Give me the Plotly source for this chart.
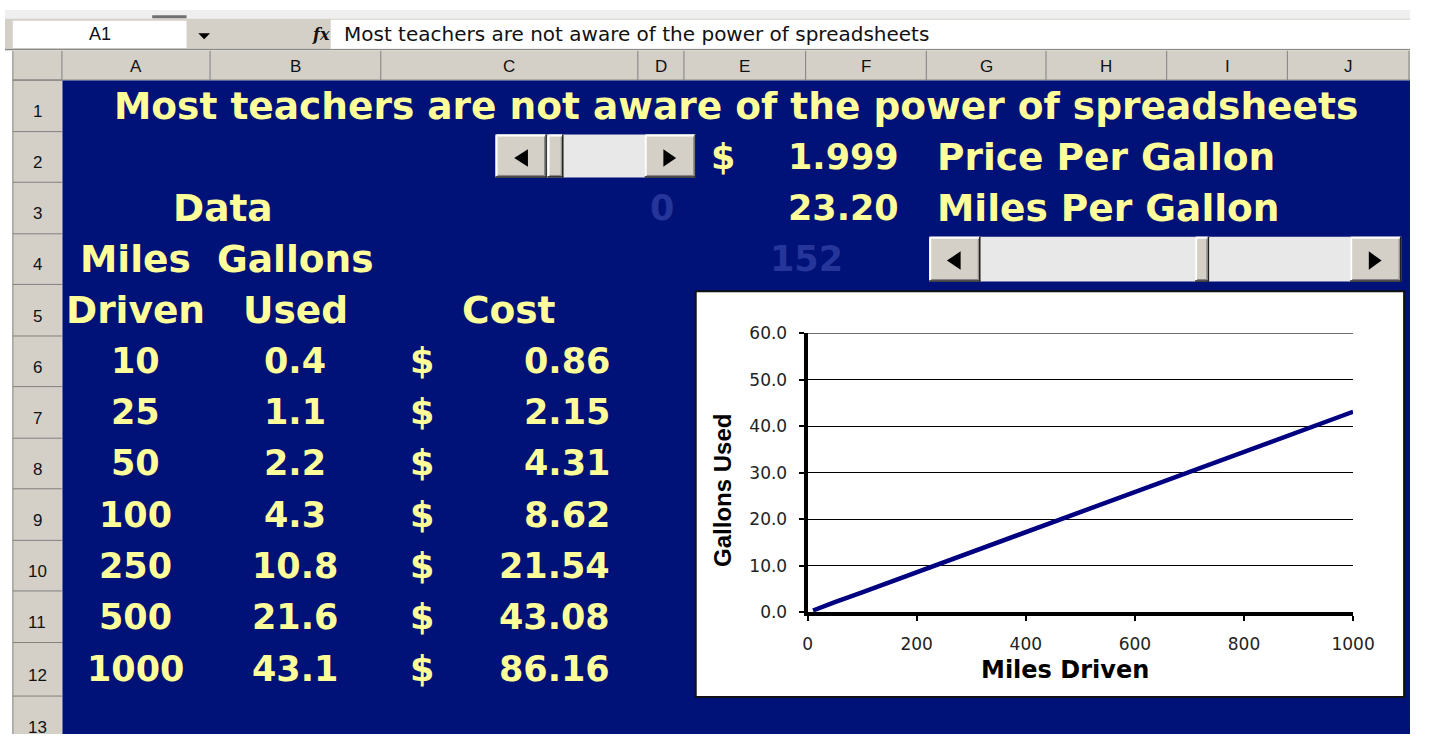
import plotly.graph_objects as go

W, H = 1432, 744

# ---------------- data ----------------
title_text = "Most teachers are not aware of the power of spreadsheets"
cell_ref = "A1"
column_letters = ["A", "B", "C", "D", "E", "F", "G", "H", "I", "J"]
row_numbers = list(range(1, 14))
miles_driven = [10, 25, 50, 100, 250, 500, 1000]
gallons_used = [0.4, 1.1, 2.2, 4.3, 10.8, 21.6, 43.1]
cost_dollars = [0.86, 2.15, 4.31, 8.62, 21.54, 43.08, 86.16]
price_per_gallon = 1.999
miles_per_gallon = 23.20
hidden_price_link = 0
hidden_mpg_link = 152
x_ticks = [0, 200, 400, 600, 800, 1000]
y_ticks = [0, 10, 20, 30, 40, 50, 60]

# ---------------- geometry helpers ----------------
col_edges = [58, 209, 383, 645, 692, 816, 939, 1061, 1184, 1307, 1431]
row_edges = [72, 125, 177, 230, 282, 335, 387, 440, 492, 545, 597, 650, 705, 757]

BLUE = "#001278"
YELLOW = "#FFFF99"
DIM = "#26359a"
GRAY = "#d4d0c8"


def X(p):
    return p / W


def Y(p):
    return 1 - p / H


shapes = []
annotations = []


def rect(x0, y0, x1, y1, fill, line=None, lw=0, layer="below"):
    shapes.append(dict(type="rect", xref="paper", yref="paper",
                       x0=X(x0), x1=X(x1), y0=Y(y1), y1=Y(y0),
                       fillcolor=fill, layer=layer,
                       line=dict(color=line or fill, width=lw)))


def seg(x0, y0, x1, y1, color, w=1, layer="below"):
    shapes.append(dict(type="line", xref="paper", yref="paper",
                       x0=X(x0), x1=X(x1), y0=Y(y0), y1=Y(y1),
                       layer=layer, line=dict(color=color, width=w)))


def poly(pts, fill):
    d = "M " + " L ".join(f"{X(a):.6f},{Y(b):.6f}" for a, b in pts) + " Z"
    shapes.append(dict(type="path", xref="paper", yref="paper", path=d,
                       fillcolor=fill, line=dict(color=fill, width=0), layer="below"))


def text(x, y, s, size, color, family="DejaVu Sans", bold=False, xa="center", ya="middle", angle=0):
    annotations.append(dict(x=X(x), y=Y(y), xref="paper", yref="paper", text=s,
                            showarrow=False, xanchor=xa, yanchor=ya, textangle=angle,
                            font=dict(family=family, size=size, color=color,
                                      weight="bold" if bold else "normal")))


def rowc(r):
    return (row_edges[r - 1] + row_edges[r]) / 2


def colc(c):
    return (col_edges[c] + col_edges[c + 1]) / 2


# ---------------- window chrome ----------------
rect(0, 0, W, 42, GRAY)
rect(0, 0, W, 9, "#efefef")
seg(150, 7, 185, 7, "#707070", 3)
rect(8, 11, 185, 39, "white")
poly([(197, 24), (209, 24), (203, 30)], "black")
text(97, 25, cell_ref, 18, "#111", family="Liberation Sans")
rect(332, 10, W, 40, "white")
text(322, 25, "<i>fx</i>", 16, "#111", family="DejaVu Serif", bold=True)
text(343, 25, title_text, 20, "#111", xa="left")
seg(0, 40.5, W, 40.5, "#808080", 1)

# header row / column
rect(8, 42, W, 72, GRAY)
rect(8, 72, 58, H, GRAY)
for e in col_edges:
    seg(e, 42, e, 72, "#808080", 1)
seg(8, 42, 8, H, "#808080", 1)
seg(8, 72, W, 72, "#808080", 1)
for e in row_edges:
    seg(8, e, 58, e, "#808080", 1)
for i, letter in enumerate(column_letters):
    text(colc(i), 58, letter, 17, "#111", family="Liberation Sans")
for r in row_numbers:
    text(33, rowc(r) + 6, str(r), 17, "#111", family="Liberation Sans")

# blue sheet
rect(58.5, 72.5, W, H, BLUE)

# ---------------- scrollbars ----------------
def button(x0, y0, x1, y1):
    rect(x0, y0, x1, y1, GRAY)
    seg(x0 + 1, y0 + 1, x1 - 1, y0 + 1, "white", 2)
    seg(x0 + 1, y0 + 1, x0 + 1, y1 - 1, "white", 2)
    seg(x0, y1 - 0.5, x1, y1 - 0.5, "#202020", 1.5)
    seg(x1 - 0.5, y0, x1 - 0.5, y1, "#202020", 1.5)
    seg(x0 + 2, y1 - 2, x1 - 2, y1 - 2, "#808080", 1)
    seg(x1 - 2, y0 + 2, x1 - 2, y1 - 2, "#808080", 1)


def scrollbar(x0, y0, x1, y1, t0, t1, lx, rx, ay0, ay1):
    rect(x0, y0, x1, y1, "#e8e8e8")
    btn = 52
    button(x0, y0, x0 + btn, y1)
    button(x1 - btn, y0, x1, y1)
    button(t0, y0, t1, y1)
    my = (ay0 + ay1) / 2
    poly([(lx, my), (lx + 14, ay0), (lx + 14, ay1)], "black")
    poly([(rx + 13, my), (rx, ay0), (rx, ay1)], "black")


scrollbar(500, 128, 704, 172, 553, 569, 519, 671, 143, 161)
scrollbar(942, 233, 1423, 279, 1213, 1227, 960, 1390, 248, 267)

# ---------------- sheet texts ----------------
LBL = 37.5
NUM = 35
text(745, rowc(1), title_text, LBL, YELLOW, bold=True)
text(718, rowc(2), "$", NUM, YELLOW, bold=True, xa="left")
text(913, rowc(2), f"{price_per_gallon:.3f}", NUM, YELLOW, bold=True, xa="right")
text(948, rowc(2), "Price Per Gallon", LBL, YELLOW, bold=True, xa="left")
text(222, rowc(3), "Data", LBL, YELLOW, bold=True)
text(670, rowc(3), str(hidden_price_link), NUM, DIM, bold=True)
text(913, rowc(3), f"{miles_per_gallon:.2f}", NUM, YELLOW, bold=True, xa="right")
text(948, rowc(3), "Miles Per Gallon", LBL, YELLOW, bold=True, xa="left")
text(colc(0), rowc(4), "Miles", LBL, YELLOW, bold=True)
text(colc(1), rowc(4), "Gallons", LBL, YELLOW, bold=True)
text(817, rowc(4), str(hidden_mpg_link), NUM, DIM, bold=True)
text(colc(0), rowc(5), "Driven", LBL, YELLOW, bold=True)
text(colc(1), rowc(5), "Used", LBL, YELLOW, bold=True)
text(514, rowc(5), "Cost", LBL, YELLOW, bold=True)
for i, (m, g, c) in enumerate(zip(miles_driven, gallons_used, cost_dollars)):
    r = 6 + i
    text(colc(0), rowc(r), str(m), NUM, YELLOW, bold=True)
    text(colc(1), rowc(r), f"{g:.1f}", NUM, YELLOW, bold=True)
    text(425, rowc(r), "$", NUM, YELLOW, bold=True)
    text(619, rowc(r), f"{c:.2f}", NUM, YELLOW, bold=True, xa="right")

# ---------------- embedded chart ----------------
rect(704, 289, 1426, 706, "white", line="#111", lw=2)
text(732, 494, "Gallons Used", 24, "black", family="Liberation Sans", bold=True, angle=-90)
text(1080, 678, "Miles Driven", 24, "black", bold=True)

fig = go.Figure()
fig.add_trace(go.Scatter(x=miles_driven, y=gallons_used, mode="lines",
                         line=dict(color="#000080", width=4.5),
                         hoverinfo="skip", showlegend=False))

# top gridline (60.0) drawn in data coordinates
shapes.append(dict(type="line", xref="x", yref="y", x0=x_ticks[0], x1=x_ticks[-1],
                   y0=y_ticks[-1], y1=y_ticks[-1], line=dict(color="black", width=1),
                   layer="below"))

tickfont = dict(family="DejaVu Sans", size=17, color="#222")
fig.update_layout(
    width=W, height=H,
    margin=dict(l=0, r=0, t=0, b=0),
    paper_bgcolor="white",
    plot_bgcolor="rgba(0,0,0,0)",
    shapes=shapes,
    annotations=annotations,
    showlegend=False,
    xaxis=dict(domain=[X(818), X(1374)], range=[0, 1000], tickvals=x_ticks,
               showgrid=False, zeroline=False, showline=True, linewidth=4,
               linecolor="black", ticks="outside", ticklen=5, tickwidth=2,
               tickcolor="black", tickfont=tickfont, ticklabelstandoff=8,
               fixedrange=True),
    yaxis=dict(domain=[Y(619), Y(332)], range=[0, 60], tickvals=y_ticks,
               tickformat=".1f", showgrid=True, gridcolor="black", gridwidth=1,
               zeroline=False, showline=True, linewidth=4, linecolor="black",
               ticks="outside", ticklen=5, tickwidth=2, tickcolor="black",
               tickfont=tickfont, ticklabelstandoff=8, fixedrange=True),
)

fig.write_html(
    "out.html",
    config={"displayModeBar": False},
    post_script="document.body.style.margin='0';document.body.style.overflow='hidden';",
)
